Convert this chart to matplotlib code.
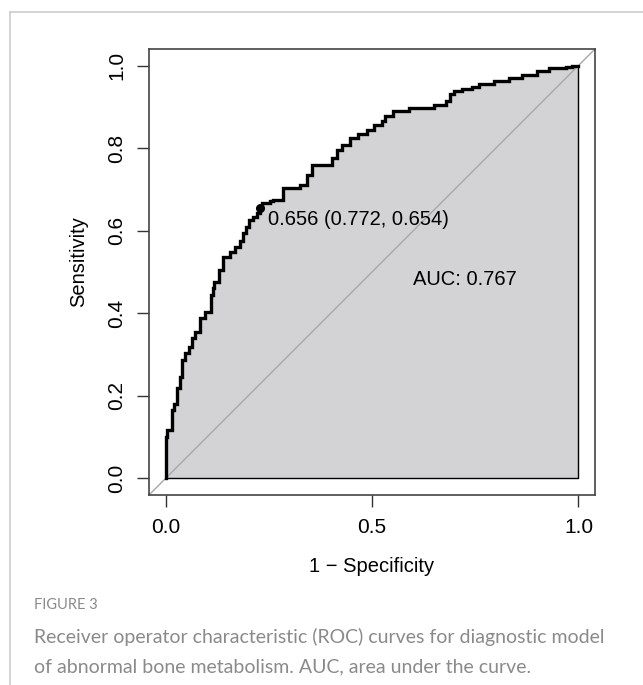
import matplotlib
matplotlib.use('Agg')
import matplotlib.pyplot as plt
from matplotlib.lines import Line2D

# ROC curve corners (1 - specificity, sensitivity)
fpr = [0.0, 0.0, 0.004, 0.015, 0.021, 0.027, 0.035, 0.040, 0.047, 0.057,
       0.063, 0.071, 0.083, 0.095, 0.109, 0.116, 0.118, 0.130, 0.140, 0.156,
       0.168, 0.180, 0.187, 0.195, 0.203, 0.213, 0.222, 0.228, 0.233, 0.253,
       0.261, 0.285, 0.326, 0.342, 0.354, 0.403, 0.415, 0.427, 0.447, 0.467,
       0.488, 0.504, 0.524, 0.532, 0.552, 0.589, 0.650, 0.678, 0.690, 0.698,
       0.718, 0.743, 0.759, 0.795, 0.832, 0.864, 0.900, 0.929, 0.969, 0.985,
       1.0]
tpr = [0.0, 0.100, 0.117, 0.165, 0.180, 0.220, 0.246, 0.286, 0.303, 0.319,
       0.340, 0.355, 0.388, 0.404, 0.444, 0.461, 0.476, 0.505, 0.537, 0.549,
       0.561, 0.574, 0.594, 0.610, 0.626, 0.634, 0.642, 0.654, 0.667, 0.671,
       0.675, 0.703, 0.711, 0.735, 0.760, 0.776, 0.796, 0.808, 0.824, 0.833,
       0.845, 0.857, 0.865, 0.877, 0.889, 0.897, 0.904, 0.913, 0.931, 0.938,
       0.943, 0.948, 0.956, 0.962, 0.970, 0.976, 0.986, 0.993, 0.997, 1.0,
       1.0]

best_thr = 0.656
best_spec = 0.772
best_sens = 0.654
auc = 0.767

x_ticks = [0.0, 0.5, 1.0]
y_ticks = [0.0, 0.2, 0.4, 0.6, 0.8, 1.0]

fig = plt.figure(figsize=(6.43, 6.85), dpi=100)
plt.rcParams['font.family'] = ['Liberation Sans', 'DejaVu Sans']

# panel border (top and left only)
fig.add_artist(Line2D([10 / 643, 1.0], [1 - 12 / 685, 1 - 12 / 685],
                      color='#cccccc', lw=1.2, transform=fig.transFigure))
fig.add_artist(Line2D([10 / 643, 10 / 643], [0.0, 1 - 12 / 685],
                      color='#cccccc', lw=1.2, transform=fig.transFigure))

ax = fig.add_axes([149 / 643, 1 - 495 / 685, 446 / 643, 446 / 685])

# filled area under the curve
ax.fill_between(fpr, tpr, 0, step='post', facecolor='#d3d3d5',
                edgecolor='none', zorder=1)
ax.plot([1, 1, 0], [1, 0, 0], color='black', lw=1, zorder=2)
# chance diagonal
ax.plot([-0.1, 1.1], [-0.1, 1.1], color='#a8a8a8', lw=1, zorder=2)
# ROC curve
ax.plot(fpr, tpr, drawstyle='steps-post', color='black', lw=2.4,
        solid_joinstyle='miter', zorder=3)

# best threshold
ax.plot([1 - best_spec], [best_sens], 'o', color='black', ms=5.5, zorder=4)
ax.text(0.248, 0.626, f'{best_thr:.3f} ({best_spec:.3f}, {best_sens:.3f})',
        fontsize=14.5, ha='left', va='center', zorder=5)
ax.text(0.60, 0.483, f'AUC: {auc:.3f}', fontsize=14.5, ha='left',
        va='center', zorder=5)

ax.set_xlim(-0.04, 1.04)
ax.set_ylim(-0.04, 1.04)
ax.set_xticks(x_ticks)
ax.set_xticklabels([f'{v:.1f}' for v in x_ticks])
ax.set_yticks(y_ticks)
ax.set_yticklabels([f'{v:.1f}' for v in y_ticks], rotation=90, va='center')
ax.tick_params(axis='both', length=8.5, width=1, color='#333333',
               labelsize=15, pad=8)
for s in ax.spines.values():
    s.set_color('#444444')
    s.set_linewidth(1.2)

fig.text(372 / 643, 1 - 567 / 685, '1 − Specificity', fontsize=14.5,
         ha='center', va='center')
fig.text(79 / 643, 1 - 262 / 685, 'Sensitivity', fontsize=14.5,
         ha='center', va='center', rotation=90)

# caption
cap = ['Lato', 'DejaVu Sans']
fig.text(34 / 643, 1 - 605 / 685, 'FIGURE 3', fontsize=10.5,
         color='#8a8a8a', ha='left', va='center', family=cap)
fig.text(34 / 643, 1 - 637 / 685,
         'Receiver operator characteristic (ROC) curves for diagnostic model',
         fontsize=14, color='#8a8a8a', ha='left', va='center', family=cap)
fig.text(34 / 643, 1 - 667 / 685,
         'of abnormal bone metabolism. AUC, area under the curve.',
         fontsize=14, color='#8a8a8a', ha='left', va='center', family=cap)

fig.savefig('out.png', dpi=100)
